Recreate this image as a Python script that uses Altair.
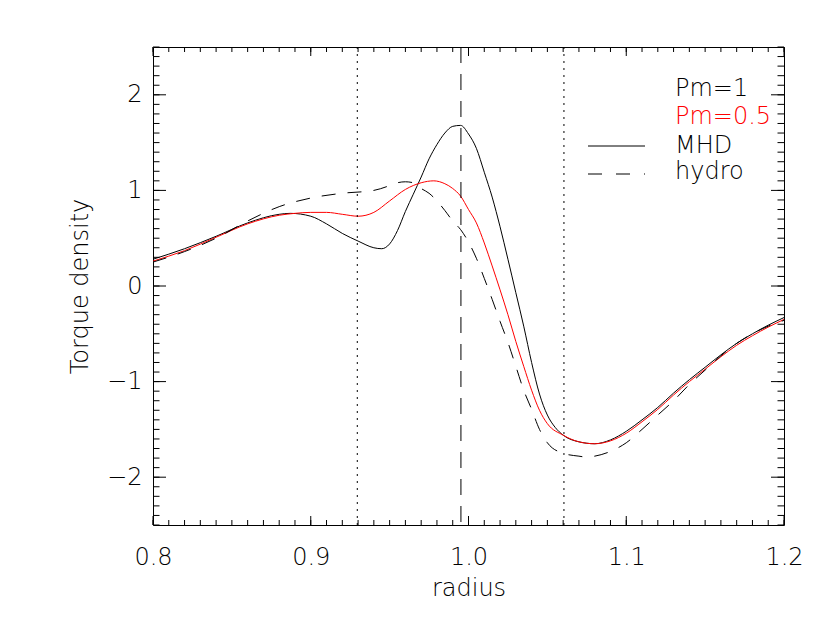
import altair as alt
import pandas as pd

# ---- data ----
x_mhd1 = [0.80, 0.82, 0.84, 0.86, 0.88, 0.887, 0.90, 0.91, 0.92, 0.93, 0.94, 0.945,
          0.95, 0.955, 0.96, 0.965, 0.97, 0.975, 0.98, 0.985, 0.99, 0.995, 1.00,
          1.005, 1.01, 1.015, 1.02, 1.025, 1.03, 1.035, 1.04, 1.045, 1.05, 1.055,
          1.06, 1.07, 1.08, 1.09, 1.10, 1.11, 1.12, 1.13, 1.14, 1.15, 1.16, 1.17,
          1.18, 1.19, 1.20]
y_mhd1 = [0.28, 0.39, 0.52, 0.66, 0.75, 0.76, 0.73, 0.65, 0.55, 0.47, 0.40, 0.39,
          0.44, 0.58, 0.78, 0.96, 1.14, 1.33, 1.48, 1.60, 1.67, 1.68, 1.59,
          1.44, 1.19, 0.93, 0.62, 0.28, -0.07, -0.42, -0.80, -1.13, -1.35, -1.48,
          -1.56, -1.63, -1.65, -1.61, -1.52, -1.40, -1.27, -1.12, -0.98, -0.85,
          -0.72, -0.60, -0.50, -0.41, -0.33]

x_mhd05 = [0.80, 0.82, 0.84, 0.86, 0.88, 0.89, 0.90, 0.91, 0.92, 0.93, 0.94, 0.95,
           0.96, 0.97, 0.978, 0.985, 0.99, 0.995, 1.00, 1.005, 1.01, 1.015, 1.02,
           1.025, 1.03, 1.035, 1.04, 1.045, 1.05, 1.06, 1.07, 1.08, 1.09, 1.10,
           1.11, 1.12, 1.13, 1.14, 1.15, 1.16, 1.17, 1.18, 1.19, 1.20]
y_mhd05 = [0.26, 0.37, 0.51, 0.65, 0.74, 0.76, 0.77, 0.77, 0.75, 0.73, 0.77, 0.89,
           1.01, 1.08, 1.10, 1.07, 1.02, 0.94, 0.80, 0.66, 0.45, 0.21, -0.04,
           -0.30, -0.58, -0.84, -1.09, -1.30, -1.44, -1.56, -1.63, -1.65, -1.62,
           -1.54, -1.42, -1.29, -1.14, -1.00, -0.87, -0.74, -0.62, -0.52, -0.43, -0.35]

x_hydro = [0.80, 0.82, 0.84, 0.86, 0.88, 0.90, 0.92, 0.94, 0.95, 0.955, 0.96, 0.965,
           0.97, 0.975, 0.98, 0.985, 0.99, 0.995, 1.00, 1.005, 1.01, 1.015, 1.02,
           1.025, 1.03, 1.035, 1.04, 1.045, 1.05, 1.06, 1.07, 1.075, 1.08, 1.09,
           1.10, 1.11, 1.12, 1.13, 1.14, 1.15, 1.16, 1.17, 1.18, 1.19, 1.20]
y_hydro = [0.25, 0.36, 0.50, 0.68, 0.83, 0.92, 0.97, 1.00, 1.05, 1.08, 1.09, 1.08,
           1.02, 0.97, 0.89, 0.79, 0.68, 0.59, 0.46, 0.29, 0.08, -0.14, -0.37,
           -0.59, -0.84, -1.09, -1.29, -1.50, -1.64, -1.75, -1.78, -1.79, -1.78,
           -1.73, -1.64, -1.50, -1.35, -1.20, -1.03, -0.88, -0.73, -0.60, -0.50,
           -0.42, -0.36]

dotted_lines = [0.9295, 1.0605]
dashed_lines = [0.9952]

x_major = [0.8, 0.9, 1.0, 1.1, 1.2]
y_major = [-2, -1, 0, 1, 2]
x_minor = [round(0.8 + 0.01 * i, 2) for i in range(41)]
y_minor = [round(-2.5 + 0.1 * i, 1) for i in range(51)]

legend_black = ["Pm=1", "MHD", "hydro"]
legend_red = ["Pm=0.5"]

# ---- layout ----
W, H = 631, 478
FONT = "DejaVu Sans"
FS = 24

xs = alt.Scale(domain=[0.8, 1.2], nice=False, zero=False)
ys = alt.Scale(domain=[-2.5, 2.5], nice=False, zero=False)

def line_df(xv, yv):
    return pd.DataFrame({"r": xv, "t": yv})

base_x = alt.X("r:Q", scale=xs,
               axis=alt.Axis(values=x_major, format=".1f", title="radius",
                             titleY=70, titleBaseline="alphabetic",
                             labelPadding=20, labelBaseline="top", labelFlush=False))
base_y = alt.Y("t:Q", scale=ys,
               axis=alt.Axis(values=y_major, format="d", title="Torque density",
                             titleX=-66, titleBaseline="alphabetic", titleAngle=270,
                             labelPadding=11, labelFlush=False))

black = alt.Chart(line_df(x_mhd1, y_mhd1)).mark_line(
    color="black", strokeWidth=1, interpolate="monotone").encode(x=base_x, y=base_y)
red = alt.Chart(line_df(x_mhd05, y_mhd05)).mark_line(
    color="#ff0000", strokeWidth=1, interpolate="monotone").encode(x="r:Q", y="t:Q")
hydro = alt.Chart(line_df(x_hydro, y_hydro)).mark_line(
    color="black", strokeWidth=1, strokeDash=[14, 12], interpolate="monotone"
).encode(x="r:Q", y="t:Q")

dots = alt.Chart(pd.DataFrame({"r": dotted_lines})).mark_rule(
    color="black", strokeWidth=1, strokeDash=[2, 5]).encode(x="r:Q")
dash = alt.Chart(pd.DataFrame({"r": dashed_lines})).mark_rule(
    color="black", strokeWidth=1, strokeDash=[16, 11]).encode(x="r:Q")

def xticks(vals, length):
    d = pd.DataFrame({"r": vals})
    b = alt.Chart(d).mark_rule(color="black", strokeWidth=1).encode(
        x="r:Q", y=alt.value(H), y2=alt.value(H - length))
    t = alt.Chart(d).mark_rule(color="black", strokeWidth=1).encode(
        x="r:Q", y=alt.value(0), y2=alt.value(length))
    return [b, t]

def yticks(vals, length):
    d = pd.DataFrame({"t": vals})
    l = alt.Chart(d).mark_rule(color="black", strokeWidth=1).encode(
        y="t:Q", x=alt.value(0), x2=alt.value(length))
    r = alt.Chart(d).mark_rule(color="black", strokeWidth=1).encode(
        y="t:Q", x=alt.value(W), x2=alt.value(W - length))
    return [l, r]

ticks = (xticks(x_minor, 5) + xticks(x_major, 9) +
         yticks(y_minor, 6.5) + yticks(y_major, 13))

leg_black = alt.Chart(pd.DataFrame({"txt": legend_black, "yy": [48.7, 105.7, 132.3]})).mark_text(
    align="left", baseline="alphabetic", font=FONT, fontSize=FS, fontWeight=200,
    color="black").encode(x=alt.value(522), y=alt.Y("yy:Q", scale=None), text="txt:N")
leg_red = alt.Chart(pd.DataFrame({"txt": legend_red, "yy": [77.3]})).mark_text(
    align="left", baseline="alphabetic", font=FONT, fontSize=FS, fontWeight=200,
    color="#ff0000").encode(x=alt.value(522), y=alt.Y("yy:Q", scale=None), text="txt:N")
leg_solid = alt.Chart(pd.DataFrame({"a": [0]})).mark_rule(
    color="black", strokeWidth=1).encode(x=alt.value(435), x2=alt.value(492), y=alt.value(99))
leg_dash = alt.Chart(pd.DataFrame({"a": [0]})).mark_rule(
    color="black", strokeWidth=1, strokeDash=[14, 14]).encode(
    x=alt.value(435), x2=alt.value(492), y=alt.value(127))

chart = alt.layer(black, red, hydro, dots, dash, *ticks, leg_black, leg_red,
                  leg_solid, leg_dash).properties(
    width=W, height=H,
    padding={"left": 145, "top": 39, "right": 38, "bottom": 90},
    autosize=alt.AutoSizeParams(type="none"),
    background="white",
).configure_view(stroke="black", strokeWidth=1).configure_axis(
    grid=False, domain=False, ticks=False, tickSize=0,
    labelFont=FONT, labelFontSize=FS, labelFontWeight=200, labelColor="black",
    titleFont=FONT, titleFontSize=FS, titleFontWeight=200, titleColor="black",
)

chart.save("out.html", embed_options={"renderer": "svg", "actions": False})
